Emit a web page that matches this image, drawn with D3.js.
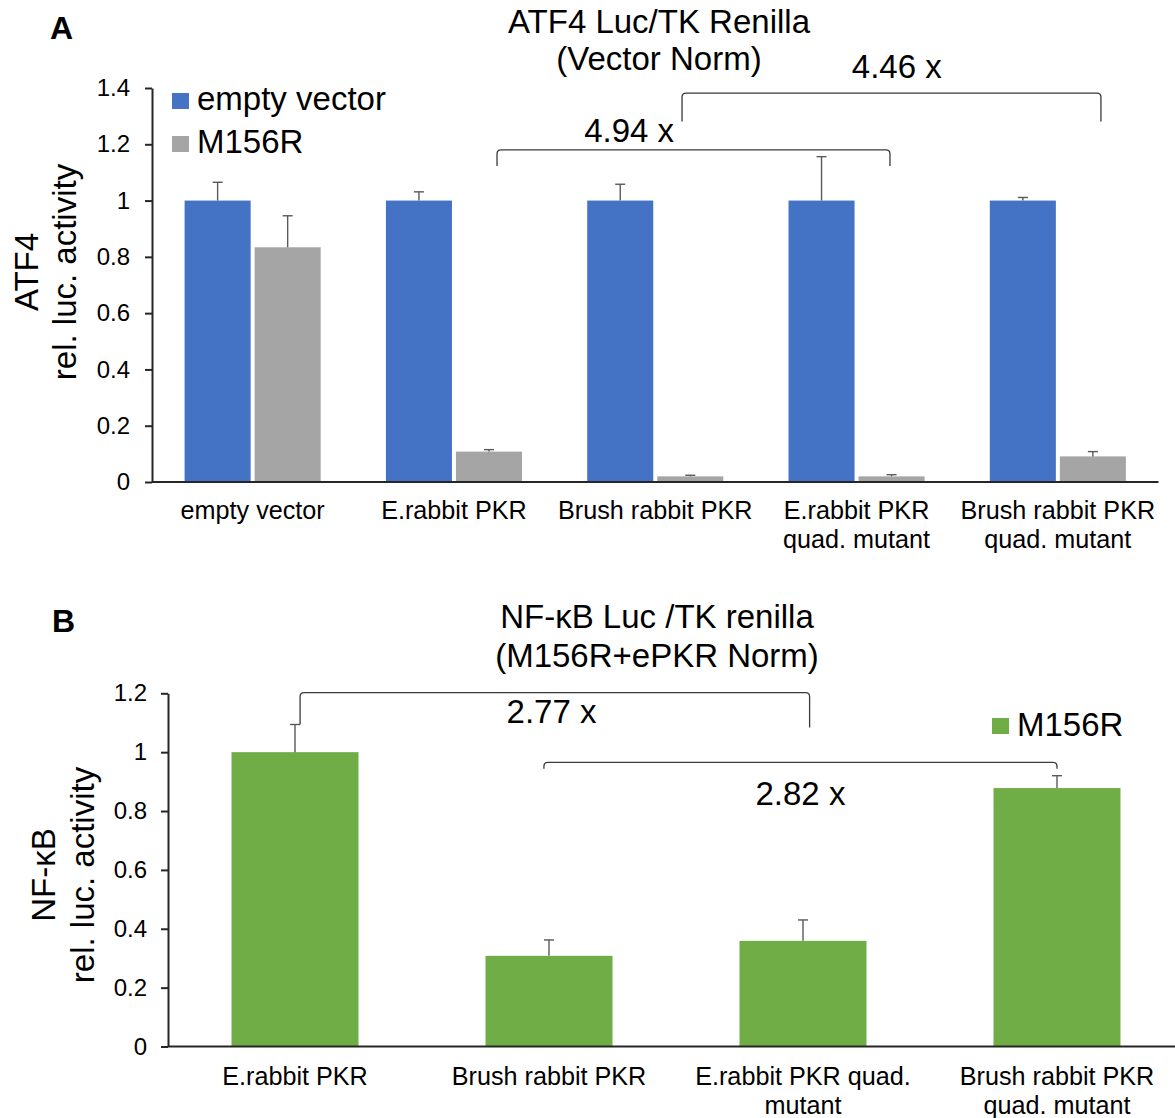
<!DOCTYPE html>
<html>
<head>
<meta charset="utf-8">
<script src="https://cdn.jsdelivr.net/npm/d3@7"></script>
<style>
  html, body { margin: 0; padding: 0; background: #fff; }
  svg { display: block; font-family: "Liberation Sans", Arial, sans-serif; }
  .axis path, .axis line { stroke: #262626; stroke-width: 2; }
  .axis text { fill: #000; }
</style>
</head>
<body>
<svg id="chart" width="1175" height="1118"></svg>
<script>
// ----- DATA: PANEL A --------------------------------//
var catsA = [['empty vector'], ['E.rabbit PKR'], ['Brush rabbit PKR'],
             ['E.rabbit PKR', 'quad. mutant'], ['Brush rabbit PKR', 'quad. mutant']];
var seriesA = ['empty vector', 'M156R'];
var emptyVals = [1, 1, 1, 1, 1];
var emptyErr = [0.065, 0.031, 0.058, 0.156, 0.011];
var m156Vals = [0.834, 0.108, 0.020, 0.020, 0.091];
var m156Err = [0.112, 0.007, 0.004, 0.006, 0.017];
var ticksA = [0, 0.2, 0.4, 0.6, 0.8, 1, 1.2, 1.4];
// brackets: positions in category units, levels in value units
var bracketsA = [
  { from: 1.714, to: 3.666, top: 1.18, left: 1.123, right: 1.123, label: '4.94 x', lx: 2.37, ly: 1.208 },
  { from: 2.633, to: 4.714, top: 1.382, left: 1.281, right: 1.281, label: '4.46 x', lx: 3.70, ly: 1.436 }
];

// ----- DATA: PANEL B --------------------------------//
var catsB = [['E.rabbit PKR'], ['Brush rabbit PKR'], ['E.rabbit PKR quad.', 'mutant'],
             ['Brush rabbit PKR', 'quad. mutant']];
var nfkbVals = [1, 0.308, 0.359, 0.878];
var nfkbErr = [0.094, 0.054, 0.071, 0.042];
var ticksB = [0, 0.2, 0.4, 0.6, 0.8, 1, 1.2];
var bracketsB = [
  { from: 0.52, to: 2.526, top: 1.202, left: 1.094, right: 1.084, label: '2.77 x', lx: 1.51, ly: 1.10 },
  { from: 1.48, to: 3.5, top: 0.965, left: 0.944, right: 0.944, label: '2.82 x', lx: 2.49, ly: 0.821 }
];

var BLUE = '#4472C4', GRAY = '#A5A5A5', GREEN = '#70AD47',
    ERR = '#595959', LINE = '#3a3a3a';

var svg = d3.select('#chart');

//----- HELPERS ---------------------------------------//
function bracketPath(x, y, b) {
  var x0 = x(b.from), x1 = x(b.to), yt = y(b.top), r = 4;
  var p = d3.path();
  p.moveTo(x0, y(b.left));
  p.lineTo(x0, yt + r);
  p.quadraticCurveTo(x0, yt, x0 + r, yt);
  p.lineTo(x1 - r, yt);
  p.quadraticCurveTo(x1, yt, x1, yt + r);
  p.lineTo(x1, y(b.right));
  return p.toString();
}

function drawErr(g, cx, yTop, yBar) {
  g.append('line').attr('x1', cx).attr('x2', cx).attr('y1', yBar).attr('y2', yTop)
    .attr('stroke', ERR).attr('stroke-width', 1.4);
  g.append('line').attr('x1', cx - 5).attr('x2', cx + 5).attr('y1', yTop).attr('y2', yTop)
    .attr('stroke', ERR).attr('stroke-width', 1.4);
}

function yLabel(lines, x0, gap, cy) {
  var t = svg.append('text')
    .attr('transform', 'translate(' + x0 + ',' + cy + ') rotate(-90)')
    .attr('text-anchor', 'middle').attr('font-size', 33);
  t.selectAll('tspan').data(lines).enter().append('tspan')
    .attr('x', 0).attr('y', function (d, i) { return i * gap; })
    .text(function (d) { return d; });
}

function title(lines, cx, y0, gap) {
  var t = svg.append('text').attr('text-anchor', 'middle').attr('font-size', 33);
  t.selectAll('tspan').data(lines).enter().append('tspan')
    .attr('x', cx).attr('y', function (d, i) { return y0 + i * gap; })
    .text(function (d) { return d; });
}

function xLabels(g, x, cats, y0) {
  cats.forEach(function (lines, i) {
    var t = g.append('text').attr('text-anchor', 'middle').attr('font-size', 25.2);
    t.selectAll('tspan').data(lines).enter().append('tspan')
      .attr('x', x(i) + x.bandwidth() / 2)
      .attr('y', function (d, j) { return y0 + j * 29; })
      .text(function (d) { return d; });
  });
}

//----- PANEL A ----------------------------------------//
var xA = d3.scaleBand().domain(d3.range(catsA.length)).range([152, 1158.5])
  .paddingInner(0.324).paddingOuter(0.162);
var subA = d3.scaleBand().domain(seriesA).range([0, xA.bandwidth()]).paddingInner(0.057);
var yA = d3.scaleLinear().domain([0, 1.4]).range([482, 88]);
var posA = function (p) { return xA.range()[0] + p * xA.step(); };

var gA = svg.append('g');
var dataA = emptyVals.map(function (v, i) {
  return [{ s: 'empty vector', v: v, e: emptyErr[i], c: BLUE },
          { s: 'M156R', v: m156Vals[i], e: m156Err[i], c: GRAY }];
});
dataA.forEach(function (grp, i) {
  grp.forEach(function (d) {
    var x0 = xA(i) + subA(d.s);
    gA.append('rect').attr('x', x0).attr('y', yA(d.v))
      .attr('width', subA.bandwidth()).attr('height', yA(0) - yA(d.v))
      .attr('fill', d.c);
    drawErr(gA, x0 + subA.bandwidth() / 2, yA(d.v + d.e), yA(d.v));
  });
});

gA.append('g').attr('class', 'axis').attr('transform', 'translate(152,0)')
  .call(d3.axisLeft(yA).tickValues(ticksA).tickSize(7).tickSizeOuter(0).tickPadding(15)
    .tickFormat(function (d) { return String(d); }))
  .selectAll('text').attr('font-size', 24);
gA.append('g').attr('class', 'axis').attr('transform', 'translate(0,482)')
  .call(d3.axisBottom(xA).tickSize(0).tickSizeOuter(0).tickFormat(''))
  .select('.domain').attr('d', 'M152,0H1158.5');
xLabels(gA, xA, catsA, 519);

bracketsA.forEach(function (b) {
  gA.append('path').attr('d', bracketPath(posA, yA, b))
    .attr('fill', 'none').attr('stroke', LINE).attr('stroke-width', 1.3);
  gA.append('text').attr('x', posA(b.lx)).attr('y', yA(b.ly))
    .attr('text-anchor', 'middle').attr('font-size', 33).text(b.label);
});

// legend A
var legA = gA.append('g');
[[seriesA[0], BLUE], [seriesA[1], GRAY]].forEach(function (d, i) {
  legA.append('rect').attr('x', 172).attr('y', 93 + i * 43).attr('width', 17).attr('height', 16)
    .attr('fill', d[1]);
  legA.append('text').attr('x', 197).attr('y', 110 + i * 43).attr('font-size', 33).text(d[0]);
});

title(['ATF4 Luc/TK Renilla', '(Vector Norm)'], 659, 33, 37);
yLabel(['ATF4', 'rel. luc. activity'], 38, 38, 272);
svg.append('text').attr('x', 50).attr('y', 39).attr('font-size', 32)
  .attr('font-weight', 'bold').text('A');

//----- PANEL B ----------------------------------------//
var xB = d3.scaleBand().domain(d3.range(catsB.length)).range([168, 1184])
  .paddingInner(0.5).paddingOuter(0.25);
var yB = d3.scaleLinear().domain([0, 1.2]).range([1046.5, 693.3]);
var posB = function (p) { return xB.range()[0] + p * xB.step(); };

var gB = svg.append('g');
nfkbVals.forEach(function (v, i) {
  gB.append('rect').attr('x', xB(i)).attr('y', yB(v))
    .attr('width', xB.bandwidth()).attr('height', yB(0) - yB(v)).attr('fill', GREEN);
  drawErr(gB, xB(i) + xB.bandwidth() / 2, yB(v + nfkbErr[i]), yB(v));
});

gB.append('g').attr('class', 'axis').attr('transform', 'translate(168,0)')
  .call(d3.axisLeft(yB).tickValues(ticksB).tickSize(7).tickSizeOuter(0).tickPadding(14)
    .tickFormat(function (d) { return String(d); }))
  .selectAll('text').attr('font-size', 24);
gB.append('g').attr('class', 'axis').attr('transform', 'translate(0,1046.5)')
  .call(d3.axisBottom(xB).tickSize(0).tickSizeOuter(0).tickFormat(''))
  .select('.domain').attr('d', 'M168,0H1184');
xLabels(gB, xB, catsB, 1085);

bracketsB.forEach(function (b) {
  gB.append('path').attr('d', bracketPath(posB, yB, b))
    .attr('fill', 'none').attr('stroke', LINE).attr('stroke-width', 1.3);
  gB.append('text').attr('x', posB(b.lx)).attr('y', yB(b.ly))
    .attr('text-anchor', 'middle').attr('font-size', 33).text(b.label);
});

// legend B
gB.append('rect').attr('x', 992).attr('y', 718).attr('width', 17).attr('height', 16).attr('fill', GREEN);
gB.append('text').attr('x', 1017).attr('y', 736).attr('font-size', 33).text('M156R');

title(['NF-\u03BAB Luc /TK renilla', '(M156R+ePKR Norm)'], 657, 628, 39);
yLabel(['NF-\u03BAB', 'rel. luc. activity'], 55, 39, 875);
svg.append('text').attr('x', 52).attr('y', 632).attr('font-size', 32)
  .attr('font-weight', 'bold').text('B');
</script>
</body>
</html>
